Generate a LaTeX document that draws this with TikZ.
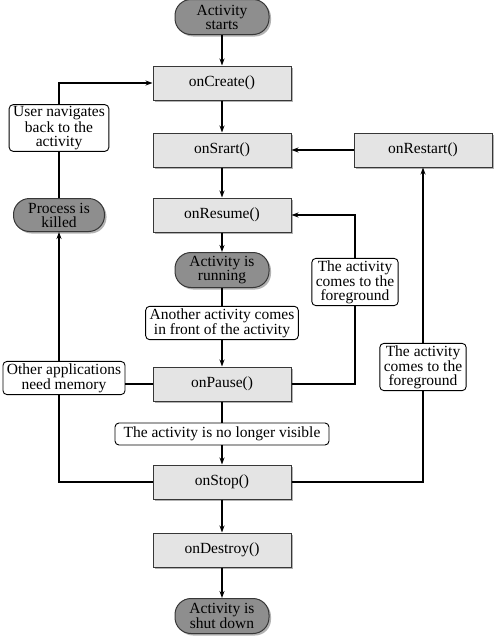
\documentclass[tikz,border=0pt]{standalone}
\usepackage{fontspec}
\setmainfont{Liberation Serif}
\usetikzlibrary{arrows.meta, positioning, shadows}
\definecolor{boxgray}{RGB}{228,228,228}
\definecolor{pillgray}{RGB}{142,142,142}
\definecolor{edgegray}{RGB}{55,55,55}

\begin{document}
\begin{tikzpicture}[
      x=1pt, y=-1pt,
      font=\fontsize{15.5}{14}\selectfont,
      callbox/.style={draw=edgegray, fill=boxgray, line width=1pt,
                  minimum width=138pt, minimum height=34pt,
                  drop shadow={shadow xshift=2pt, shadow yshift=-2pt, fill=black!60}},
      statepill/.style={draw=edgegray, fill=pillgray, line width=1pt, rounded corners=16pt,
                  minimum width=94pt, minimum height=35pt, align=center, inner sep=2pt,
                  drop shadow={shadow xshift=2pt, shadow yshift=-2pt, fill=black!60}},
      note/.style={draw=black, fill=white, rounded corners=4pt, line width=0.9pt,
                  align=center, inner xsep=4pt, inner ysep=2pt},
      arrow/.style={-{Stealth[length=7pt, width=5pt]}, line width=1.1pt},
      link/.style={line width=1.1pt},
  ]
    \useasboundingbox (0,0) rectangle (494,640);

    % main column
    \node[statepill] (start)    at (222,17)  {Activity\\starts};
    \node[callbox]   (create)   at (222,83)  {onCreate()};
    \node[callbox]   (srart)    at (222,150) {onSrart()};
    \node[callbox]   (resume)   at (222,215) {onResume()};
    \node[statepill] (running)  at (222,270) {Activity is\\running};
    \node[note]      (another)  at (222,323) {Another activity comes\\in front of the activity};
    \node[callbox]   (pause)    at (222,384) {onPause()};
    \node[note, minimum width=214pt, minimum height=22pt] (invisible) at (222,434) {The activity is no longer visible};
    \node[callbox]   (stop)     at (222,482) {onStop()};
    \node[callbox]   (destroy)  at (222,550) {onDestroy()};
    \node[statepill] (shutdown) at (222,616) {Activity is\\shut down};

    % right side
    \node[callbox]   (restart)  at (423,150) {onRestart()};
    \node[note]      (fgmid)    at (355,282) {The activity\\comes to the\\foreground};
    \node[note]      (fgright)  at (423,367) {The activity\\comes to the\\foreground};

    % left side
    \node[note]      (user)     at (59,128)  {User navigates\\back to the\\activity};
    \node[statepill, minimum width=91pt, minimum height=33pt] (killed) at (59,215) {Process is\\killed};
    \node[note]      (memory)   at (64,378)  {Other applications\\need memory};

    \draw[arrow] (start)     -- (create);
    \draw[arrow] (create)    -- (srart);
    \draw[arrow] (srart)     -- (resume);
    \draw[arrow] (resume)    -- (running);
    \draw[link]  (running)   -- (another);
    \draw[arrow] (another)   -- (pause);
    \draw[link]  (pause)     -- (invisible);
    \draw[arrow] (invisible) -- (stop);
    \draw[arrow] (stop)      -- (destroy);
    \draw[arrow] (destroy)   -- (shutdown);

    \draw[arrow] (restart) -- (srart);
    \draw[link]  (pause.east) -| (fgmid.south);
    \draw[arrow] (fgmid.north) |- (resume.east);
    \draw[link]  (stop.east) -| (fgright.south);
    \draw[arrow] (fgright) -- (restart);

    \draw[link]  (stop.west) -| (killed.south |- memory.south);
    \draw[link]  (pause.west) -- (pause.west -| memory.east);
    \draw[arrow] (killed.south |- memory.north) -- (killed.south);
    \draw[link]  (killed) -- (user);
    \draw[arrow] (user.north) |- (create.west);

  \end{tikzpicture}
\end{document}
